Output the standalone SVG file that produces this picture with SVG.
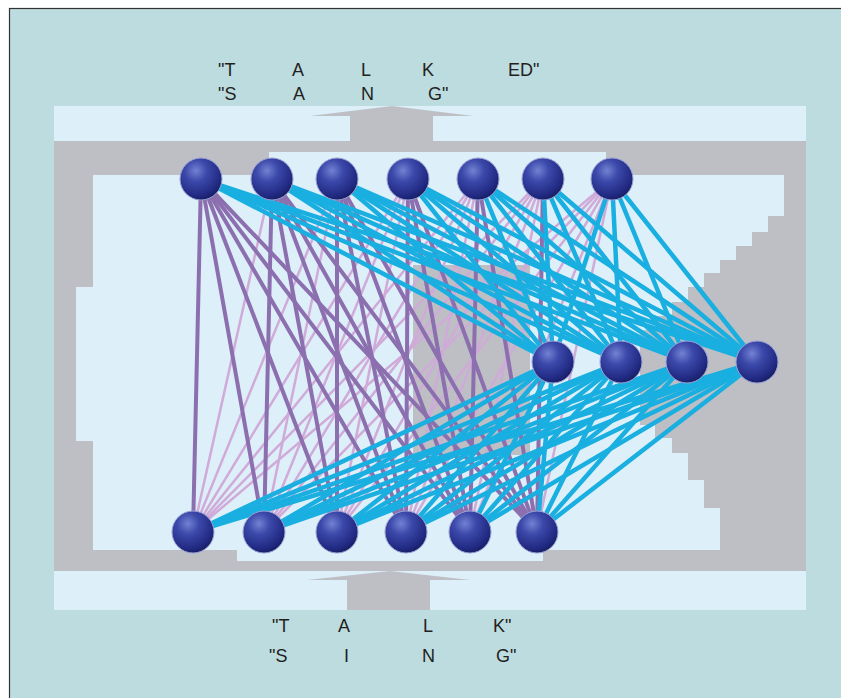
<svg xmlns="http://www.w3.org/2000/svg" width="841" height="698" viewBox="0 0 841 698">
<style>
.lbl{font-family:"Liberation Sans",Arial,sans-serif;font-size:18px;fill:#231f20}
.gray{fill:#bdbfc4}
.light{fill:#ddeff9}
.pd{stroke:#8c6fae;stroke-width:4;stroke-linecap:round;fill:none}
.pl{stroke:#d0aad8;stroke-width:2.5;stroke-linecap:round;fill:none}
.cy{stroke:#19afe0;stroke-width:4.5;stroke-linecap:round;fill:none}
.node{fill:url(#sph);stroke:#9aa2d6;stroke-width:1}
</style>
<defs>
<radialGradient id="sph" cx="0.38" cy="0.3" r="0.75">
<stop offset="0" stop-color="#7282d2"/>
<stop offset="0.35" stop-color="#3c49aa"/>
<stop offset="0.8" stop-color="#212a82"/>
<stop offset="1" stop-color="#161b5c"/>
</radialGradient>
</defs>
<rect x="0" y="0" width="841" height="698" fill="#ffffff"/>
<rect x="9.5" y="8.5" width="840" height="700" fill="#bddcdf" stroke="#333" stroke-width="1.2"/>
<g id="background">
<rect class="light" x="54" y="106" width="752" height="35"/>
<rect class="light" x="54" y="571" width="752" height="39"/>
<rect class="gray" x="54" y="141" width="752" height="430"/>
<path class="light" d="M93,175 H269 V152 H606 V175 H784 V216 H768 V232 H752 V246 H736 V260 H720 V273 H704 V287 H688 V302 H672 V316 H656 V330 H640 V425 H655 V438 H672 V453 H688 V480 H704 V508 H720 V550 H543 V561 H237 V550 H93 V441 H76 V287 H93 Z"/>
<rect class="gray" x="413" y="265" width="117" height="190"/>
<path class="gray" d="M350,141 V116 H310 L392,106 L473,116 H433 V141 Z"/>
<path class="gray" d="M347,610 V580 H307 L390,571 L470,580 H430 V610 Z"/>
</g>
<g id="connectors">
<g id="purple-links">
<line class="pl" x1="272" y1="179" x2="193" y2="532"/>
<line class="pl" x1="337" y1="179" x2="193" y2="532"/>
<line class="pl" x1="337" y1="179" x2="264" y2="532"/>
<line class="pl" x1="408" y1="179" x2="193" y2="532"/>
<line class="pl" x1="408" y1="179" x2="264" y2="532"/>
<line class="pl" x1="408" y1="179" x2="337" y2="532"/>
<line class="pl" x1="478" y1="179" x2="193" y2="532"/>
<line class="pl" x1="478" y1="179" x2="264" y2="532"/>
<line class="pl" x1="478" y1="179" x2="337" y2="532"/>
<line class="pl" x1="478" y1="179" x2="406" y2="532"/>
<line class="pl" x1="543" y1="179" x2="193" y2="532"/>
<line class="pl" x1="543" y1="179" x2="264" y2="532"/>
<line class="pl" x1="543" y1="179" x2="337" y2="532"/>
<line class="pl" x1="543" y1="179" x2="406" y2="532"/>
<line class="pl" x1="543" y1="179" x2="470" y2="532"/>
<line class="pl" x1="612" y1="179" x2="193" y2="532"/>
<line class="pl" x1="612" y1="179" x2="264" y2="532"/>
<line class="pl" x1="612" y1="179" x2="337" y2="532"/>
<line class="pl" x1="612" y1="179" x2="406" y2="532"/>
<line class="pl" x1="612" y1="179" x2="470" y2="532"/>
<line class="pl" x1="612" y1="179" x2="537" y2="532"/>
<line class="pd" x1="201" y1="179" x2="193" y2="532"/>
<line class="pd" x1="201" y1="179" x2="264" y2="532"/>
<line class="pd" x1="201" y1="179" x2="337" y2="532"/>
<line class="pd" x1="201" y1="179" x2="406" y2="532"/>
<line class="pd" x1="201" y1="179" x2="470" y2="532"/>
<line class="pd" x1="201" y1="179" x2="537" y2="532"/>
<line class="pd" x1="272" y1="179" x2="264" y2="532"/>
<line class="pd" x1="272" y1="179" x2="337" y2="532"/>
<line class="pd" x1="272" y1="179" x2="406" y2="532"/>
<line class="pd" x1="272" y1="179" x2="470" y2="532"/>
<line class="pd" x1="272" y1="179" x2="537" y2="532"/>
<line class="pd" x1="337" y1="179" x2="337" y2="532"/>
<line class="pd" x1="337" y1="179" x2="406" y2="532"/>
<line class="pd" x1="337" y1="179" x2="470" y2="532"/>
<line class="pd" x1="337" y1="179" x2="537" y2="532"/>
<line class="pd" x1="408" y1="179" x2="406" y2="532"/>
<line class="pd" x1="408" y1="179" x2="470" y2="532"/>
<line class="pd" x1="408" y1="179" x2="537" y2="532"/>
<line class="pd" x1="478" y1="179" x2="470" y2="532"/>
<line class="pd" x1="478" y1="179" x2="537" y2="532"/>
<line class="pd" x1="543" y1="179" x2="537" y2="532"/>
</g>
<g id="cyan-links">
<line class="cy" x1="201" y1="179" x2="553" y2="362"/>
<line class="cy" x1="201" y1="179" x2="621" y2="362"/>
<line class="cy" x1="201" y1="179" x2="687" y2="362"/>
<line class="cy" x1="201" y1="179" x2="757" y2="362"/>
<line class="cy" x1="272" y1="179" x2="553" y2="362"/>
<line class="cy" x1="272" y1="179" x2="621" y2="362"/>
<line class="cy" x1="272" y1="179" x2="687" y2="362"/>
<line class="cy" x1="272" y1="179" x2="757" y2="362"/>
<line class="cy" x1="337" y1="179" x2="553" y2="362"/>
<line class="cy" x1="337" y1="179" x2="621" y2="362"/>
<line class="cy" x1="337" y1="179" x2="687" y2="362"/>
<line class="cy" x1="337" y1="179" x2="757" y2="362"/>
<line class="cy" x1="408" y1="179" x2="553" y2="362"/>
<line class="cy" x1="408" y1="179" x2="621" y2="362"/>
<line class="cy" x1="408" y1="179" x2="687" y2="362"/>
<line class="cy" x1="408" y1="179" x2="757" y2="362"/>
<line class="cy" x1="478" y1="179" x2="553" y2="362"/>
<line class="cy" x1="478" y1="179" x2="621" y2="362"/>
<line class="cy" x1="478" y1="179" x2="687" y2="362"/>
<line class="cy" x1="478" y1="179" x2="757" y2="362"/>
<line class="cy" x1="543" y1="179" x2="553" y2="362"/>
<line class="cy" x1="543" y1="179" x2="621" y2="362"/>
<line class="cy" x1="543" y1="179" x2="687" y2="362"/>
<line class="cy" x1="543" y1="179" x2="757" y2="362"/>
<line class="cy" x1="612" y1="179" x2="553" y2="362"/>
<line class="cy" x1="612" y1="179" x2="621" y2="362"/>
<line class="cy" x1="612" y1="179" x2="687" y2="362"/>
<line class="cy" x1="612" y1="179" x2="757" y2="362"/>
<line class="cy" x1="193" y1="532" x2="553" y2="362"/>
<line class="cy" x1="193" y1="532" x2="621" y2="362"/>
<line class="cy" x1="193" y1="532" x2="687" y2="362"/>
<line class="cy" x1="193" y1="532" x2="757" y2="362"/>
<line class="cy" x1="264" y1="532" x2="553" y2="362"/>
<line class="cy" x1="264" y1="532" x2="621" y2="362"/>
<line class="cy" x1="264" y1="532" x2="687" y2="362"/>
<line class="cy" x1="264" y1="532" x2="757" y2="362"/>
<line class="cy" x1="337" y1="532" x2="553" y2="362"/>
<line class="cy" x1="337" y1="532" x2="621" y2="362"/>
<line class="cy" x1="337" y1="532" x2="687" y2="362"/>
<line class="cy" x1="337" y1="532" x2="757" y2="362"/>
<line class="cy" x1="406" y1="532" x2="553" y2="362"/>
<line class="cy" x1="406" y1="532" x2="621" y2="362"/>
<line class="cy" x1="406" y1="532" x2="687" y2="362"/>
<line class="cy" x1="406" y1="532" x2="757" y2="362"/>
<line class="cy" x1="470" y1="532" x2="553" y2="362"/>
<line class="cy" x1="470" y1="532" x2="621" y2="362"/>
<line class="cy" x1="470" y1="532" x2="687" y2="362"/>
<line class="cy" x1="470" y1="532" x2="757" y2="362"/>
<line class="cy" x1="537" y1="532" x2="553" y2="362"/>
<line class="cy" x1="537" y1="532" x2="621" y2="362"/>
<line class="cy" x1="537" y1="532" x2="687" y2="362"/>
<line class="cy" x1="537" y1="532" x2="757" y2="362"/>
</g>
</g>
<g id="out1"><circle class="node" cx="201" cy="179" r="21"/></g>
<g id="out2"><circle class="node" cx="272" cy="179" r="21"/></g>
<g id="out3"><circle class="node" cx="337" cy="179" r="21"/></g>
<g id="out4"><circle class="node" cx="408" cy="179" r="21"/></g>
<g id="out5"><circle class="node" cx="478" cy="179" r="21"/></g>
<g id="out6"><circle class="node" cx="543" cy="179" r="21"/></g>
<g id="out7"><circle class="node" cx="612" cy="179" r="21"/></g>
<g id="hid1"><circle class="node" cx="553" cy="362" r="21"/></g>
<g id="hid2"><circle class="node" cx="621" cy="362" r="21"/></g>
<g id="hid3"><circle class="node" cx="687" cy="362" r="21"/></g>
<g id="hid4"><circle class="node" cx="757" cy="362" r="21"/></g>
<g id="in1"><circle class="node" cx="193" cy="532" r="21"/></g>
<g id="in2"><circle class="node" cx="264" cy="532" r="21"/></g>
<g id="in3"><circle class="node" cx="337" cy="532" r="21"/></g>
<g id="in4"><circle class="node" cx="406" cy="532" r="21"/></g>
<g id="in5"><circle class="node" cx="470" cy="532" r="21"/></g>
<g id="in6"><circle class="node" cx="537" cy="532" r="21"/></g>
<g id="labels">
<text class="lbl" x="218" y="76">"T</text>
<text class="lbl" x="292" y="76">A</text>
<text class="lbl" x="361" y="76">L</text>
<text class="lbl" x="422" y="76">K</text>
<text class="lbl" x="508" y="76">ED"</text>
<text class="lbl" x="218" y="100">"S</text>
<text class="lbl" x="293" y="100">A</text>
<text class="lbl" x="361" y="100">N</text>
<text class="lbl" x="428" y="100">G"</text>
<text class="lbl" x="272" y="632">"T</text>
<text class="lbl" x="338" y="632">A</text>
<text class="lbl" x="423" y="632">L</text>
<text class="lbl" x="493" y="632">K"</text>
<text class="lbl" x="269" y="662">"S</text>
<text class="lbl" x="344" y="662">I</text>
<text class="lbl" x="422" y="662">N</text>
<text class="lbl" x="496" y="662">G"</text>
</g>
</svg>
